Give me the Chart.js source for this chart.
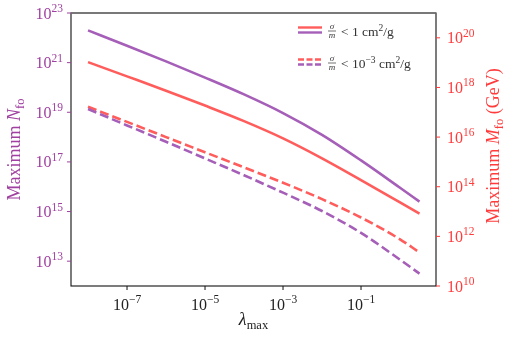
<!DOCTYPE html>
<html>
<head>
<meta charset="utf-8">
<script src="https://cdn.jsdelivr.net/npm/chart.js@4.4.1/dist/chart.umd.min.js"></script>
<style>
  body { margin: 0; background: #fff; }
  #wrap { width: 510px; height: 345px; }
</style>
</head>
<body>
<div id="wrap"><canvas id="chart" width="510" height="345"></canvas></div>
<script>
// lambda_max values (x axis)
const lambdaVals = [1e-8, 1e-7, 1e-6, 1e-5, 1e-4, 1e-3, 1e-2, 1e-1, 1, 3.16];
// sigma/m < 1 cm^2/g
const nStrong = [2.0e22, 4.8e21, 1.12e21, 2.5e20, 5.25e19, 9.3e18, 1.23e18, 1.15e17, 9.1e15, 2.5e15];
const mStrong = [1.05e19, 2.8e18, 7.4e17, 1.86e17, 4.4e16, 8.9e15, 1.4e15, 1.86e14, 2.35e13, 8.3e12];
// sigma/m < 1e-3 cm^2/g
const nWeak = [1.35e19, 2.95e18, 6.5e17, 1.38e17, 2.9e16, 5.75e15, 1.05e15, 1.38e14, 1.15e13, 3.16e12];
const mWeak = [1.66e17, 4.1e16, 1.0e16, 2.45e15, 6.0e14, 1.45e14, 3.16e13, 5.75e12, 7.6e11, 2.25e11];

// tick positions
const xTicks = [1e-7, 1e-5, 1e-3, 1e-1];
const nTicks = [1e13, 1e15, 1e17, 1e19, 1e21, 1e23];
const mTicks = [1e10, 1e12, 1e14, 1e16, 1e18, 1e20];

const PURPLE = '#a65fb8';
const RED = '#ff5c5c';
const PURPLE_TXT = '#a040a0';
const RED_TXT = '#ff3b3b';
const SERIF = '"Liberation Serif", "DejaVu Serif", serif';

const pts = ys => lambdaVals.map((x, i) => ({ x, y: ys[i] }));

// draws a run of text pieces [text, font, dy] starting at x
function drawPieces(ctx, pieces, x, y, align) {
  let total = 0;
  pieces.forEach(p => { ctx.font = p[1]; total += ctx.measureText(p[0]).width; });
  let cx = align === 'center' ? x - total / 2 : align === 'right' ? x - total : x;
  ctx.textAlign = 'left';
  ctx.textBaseline = 'alphabetic';
  pieces.forEach(p => {
    ctx.font = p[1];
    ctx.fillText(p[0], cx, y + (p[2] || 0));
    cx += ctx.measureText(p[0]).width;
  });
}

function powLabel(v) {
  const e = Math.round(Math.log10(v));
  return [['10', '16px ' + SERIF, 0], [(e < 0 ? '\u2212' : '') + Math.abs(e), '11.5px ' + SERIF, -6.5]];
}

const decorPlugin = {
  id: 'decor',
  afterDraw(chart) {
    const ctx = chart.ctx;
    const a = chart.chartArea;
    const sx = chart.scales.x, sn = chart.scales.yN, sm = chart.scales.yM;
    ctx.save();

    // frame
    ctx.strokeStyle = '#111';
    ctx.lineWidth = 1.1;
    ctx.strokeRect(a.left, a.top, a.right - a.left, a.bottom - a.top);
    ctx.strokeStyle = '#777';
    ctx.lineWidth = 1.6;
    ctx.beginPath(); ctx.moveTo(a.left, a.top); ctx.lineTo(a.right, a.top); ctx.stroke();

    // x ticks
    ctx.lineWidth = 1;
    ctx.strokeStyle = '#111';
    ctx.fillStyle = '#222';
    sx.ticks.forEach(t => {
      const px = sx.getPixelForValue(t.value);
      ctx.beginPath(); ctx.moveTo(px, a.bottom); ctx.lineTo(px, a.bottom + 4); ctx.stroke();
      drawPieces(ctx, powLabel(t.value), px, 309.5, 'center');
    });
    // left ticks
    ctx.strokeStyle = PURPLE_TXT;
    ctx.fillStyle = PURPLE_TXT;
    sn.ticks.forEach(t => {
      const py = sn.getPixelForValue(t.value);
      ctx.beginPath(); ctx.moveTo(a.left - 4, py); ctx.lineTo(a.left, py); ctx.stroke();
      drawPieces(ctx, powLabel(t.value), 63, py + 5.5, 'right');
    });
    // right ticks
    ctx.strokeStyle = RED_TXT;
    ctx.fillStyle = RED_TXT;
    sm.ticks.forEach(t => {
      const py = sm.getPixelForValue(t.value);
      ctx.beginPath(); ctx.moveTo(a.right, py); ctx.lineTo(a.right + 4, py); ctx.stroke();
      drawPieces(ctx, powLabel(t.value), 447, py + 5.5, 'left');
    });

    // axis titles
    ctx.fillStyle = '#222';
    drawPieces(ctx, [['\u03bb', 'italic 18px ' + SERIF, 0], ['max', '12.5px ' + SERIF, 4]],
      (a.left + a.right) / 2, 325, 'center');

    ctx.save();
    ctx.translate(20, (a.top + a.bottom) / 2);
    ctx.rotate(-Math.PI / 2);
    ctx.fillStyle = PURPLE_TXT;
    drawPieces(ctx, [['Maximum ', '18px ' + SERIF, 0], ['N', 'italic 18px ' + SERIF, 0],
      ['fo', '12.5px ' + SERIF, 4]], 0, 0, 'center');
    ctx.restore();

    ctx.save();
    ctx.translate(499, 146);
    ctx.rotate(-Math.PI / 2);
    ctx.fillStyle = RED_TXT;
    drawPieces(ctx, [['Maximum ', '18px ' + SERIF, 0], ['M', 'italic 18px ' + SERIF, 0],
      ['fo', '12.5px ' + SERIF, 4], [' (GeV)', '18px ' + SERIF, 0]], 0, 0, 'center');
    ctx.restore();

    // legend
    const legendRows = [
      { y: 27.5, dash: [], tail: [['< 1 cm', '13.5px ' + SERIF, 0], ['2', '9.5px ' + SERIF, -5], ['/g', '13.5px ' + SERIF, 0]] },
      { y: 59.5, dash: [6, 2.5], tail: [['< 10', '13.5px ' + SERIF, 0], ['\u22123', '9.5px ' + SERIF, -5],
        [' cm', '13.5px ' + SERIF, 0], ['2', '9.5px ' + SERIF, -5], ['/g', '13.5px ' + SERIF, 0]] }
    ];
    legendRows.forEach(r => {
      ctx.lineWidth = 2.4;
      ctx.setLineDash(r.dash);
      ctx.strokeStyle = RED;
      ctx.beginPath(); ctx.moveTo(298, r.y); ctx.lineTo(322, r.y); ctx.stroke();
      ctx.strokeStyle = PURPLE;
      ctx.beginPath(); ctx.moveTo(298, r.y + 5); ctx.lineTo(322, r.y + 5); ctx.stroke();
      ctx.setLineDash([]);
      ctx.fillStyle = '#333';
      ctx.textAlign = 'center';
      ctx.font = 'italic 9px ' + SERIF;
      ctx.fillText('\u03c3', 332, r.y + 1.5);
      ctx.fillText('m', 332, r.y + 10);
      ctx.lineWidth = 0.7;
      ctx.strokeStyle = '#333';
      ctx.beginPath(); ctx.moveTo(328, r.y + 3.5); ctx.lineTo(336, r.y + 3.5); ctx.stroke();
      drawPieces(ctx, r.tail, 341, r.y + 8.5, 'left');
    });

    ctx.restore();
  }
};

const logTicks = arr => scale => { scale.ticks = arr.map(v => ({ value: v })); };

new Chart(document.getElementById('chart').getContext('2d'), {
  type: 'line',
  data: {
    datasets: [
      { label: 'N strong', data: pts(nStrong), yAxisID: 'yN', borderColor: PURPLE, borderWidth: 2.6 },
      { label: 'M strong', data: pts(mStrong), yAxisID: 'yM', borderColor: RED, borderWidth: 2.6 },
      { label: 'N weak', data: pts(nWeak), yAxisID: 'yN', borderColor: PURPLE, borderWidth: 2.6, borderDash: [9, 4] },
      { label: 'M weak', data: pts(mWeak), yAxisID: 'yM', borderColor: RED, borderWidth: 2.6, borderDash: [9, 4] }
    ]
  },
  options: {
    responsive: false,
    animation: false,
    layout: { padding: { top: 13, left: 0, right: 0, bottom: 0 } },
    elements: {
      point: { radius: 0 },
      line: { cubicInterpolationMode: 'monotone', fill: false, borderCapStyle: 'butt' }
    },
    plugins: { legend: { display: false }, tooltip: { enabled: false } },
    scales: {
      x: {
        type: 'logarithmic', position: 'bottom', min: 3.66e-9, max: 8.37,
        grid: { display: false }, border: { display: false },
        ticks: { display: false, autoSkip: false },
        afterBuildTicks: logTicks(xTicks),
        afterFit: s => { s.height = 59; }
      },
      yN: {
        type: 'logarithmic', position: 'left', min: 1e12, max: 1e23,
        grid: { display: false }, border: { display: false },
        ticks: { display: false, autoSkip: false },
        afterBuildTicks: logTicks(nTicks),
        afterFit: s => { s.width = 71; }
      },
      yM: {
        type: 'logarithmic', position: 'right', min: 1e10, max: 1e21,
        grid: { display: false }, border: { display: false },
        ticks: { display: false, autoSkip: false },
        afterBuildTicks: logTicks(mTicks),
        afterFit: s => { s.width = 74; }
      }
    }
  },
  plugins: [decorPlugin]
});
</script>
</body>
</html>
